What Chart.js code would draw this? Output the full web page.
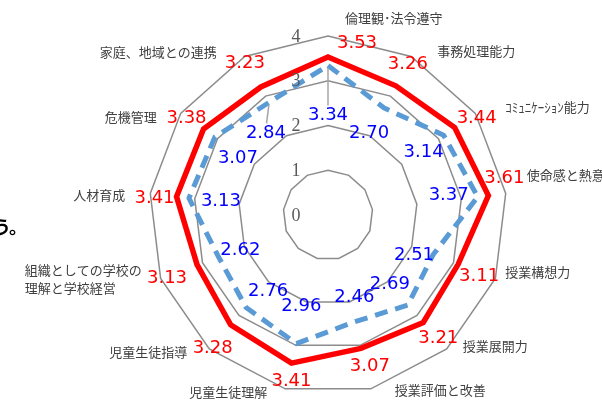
<!DOCTYPE html>
<html><head><meta charset="utf-8">
<script src="https://cdn.jsdelivr.net/npm/chart.js@4.4.1/dist/chart.umd.min.js"></script>
<style>html,body{margin:0;padding:0;background:#fff;overflow:hidden}#wrap{position:relative;width:602px;height:401px}</style>
</head><body><div id="wrap"><canvas id="c" width="602" height="401"></canvas></div>
<script>
// ---- data ----
const categories = ["倫理観･法令遵守","事務処理能力","ｺﾐｭﾆｹｰｼｮﾝ能力","使命感と熱意","授業構想力","授業展開力","授業評価と改善","児童生徒理解","児童生徒指導",["組織としての学校の","理解と学校経営"],"人材育成","危機管理","家庭、地域との連携"];
const redValues  = [3.53,3.26,3.44,3.61,3.11,3.21,3.07,3.41,3.28,3.13,3.41,3.38,3.23];
const blueValues = [3.34,2.70,3.14,3.37,2.51,2.69,2.46,2.96,2.76,2.62,3.13,3.07,2.84];
const tickValues = [0,1,2,3,4];

// ---- label placement (pixel offsets from the scale-computed anchor) ----
const redLabelOffsets  = [[29,-14],[12,-21],[22,-9],[16,-17],[21,12],[15,16],[9,18],[0,18],[-18,23],[-30,14],[-22,2],[-17,-11],[-16,-24]];
const blueLabelOffsets = [[0,50],[-15,25],[-20,17],[-29,-1],[-19,0],[-18,-21],[0,-25],[5,-37],[22,-16],[22,-6],[32,3],[23,21],[-3,31]];
const blueLeaders = {0:true, 12:true};
const catOffsets = [[17,-18,'left'],[26,-5,'left'],[30,-6,'left'],[21,-18,'left'],[10,-6,'left'],[16,-3,'left'],[24,1,'left'],[-18,3,'right'],[-22,3,'right'],[-136,-8,'left'],[-25,2,'right'],[-24,4,'right'],[-28,-4,'right']];

const labelPlugin = {
  id: 'labels',
  afterDatasetsDraw(chart) {
    const s = chart.scales.r;
    const ctx = chart.ctx;
    ctx.save();
    // tick labels
    ctx.font = '18px "Liberation Serif"';
    ctx.fillStyle = '#595959';
    ctx.textAlign = 'center';
    ctx.textBaseline = 'middle';
    tickValues.forEach(v => {
      ctx.fillText(String(v), s.xCenter - 32, s.yCenter - s.getDistanceFromCenterForValue(v) + 1);
    });
    // leader lines
    ctx.strokeStyle = '#a6a6a6';
    ctx.lineWidth = 1.5;
    blueValues.forEach((v, i) => {
      if (!blueLeaders[i]) return;
      const p = s.getPointPosition(i, s.getDistanceFromCenterForValue(v));
      const o = blueLabelOffsets[i];
      ctx.beginPath();
      ctx.moveTo(p.x, p.y + 2);
      ctx.lineTo(p.x + o[0] * 0.8, p.y + o[1] - 10);
      ctx.stroke();
    });
    // value labels
    ctx.font = '18px "DejaVu Sans"';
    ctx.textAlign = 'center';
    ctx.textBaseline = 'middle';
    ctx.fillStyle = '#ff0000';
    redValues.forEach((v, i) => {
      const p = s.getPointPosition(i, s.getDistanceFromCenterForValue(v));
      const o = redLabelOffsets[i];
      ctx.fillText(v.toFixed(2), p.x + o[0], p.y + o[1]);
    });
    ctx.fillStyle = '#0000ff';
    blueValues.forEach((v, i) => {
      const p = s.getPointPosition(i, s.getDistanceFromCenterForValue(v));
      const o = blueLabelOffsets[i];
      ctx.fillText(v.toFixed(2), p.x + o[0], p.y + o[1]);
    });
    // category labels
    ctx.font = '13px "Noto Sans CJK JP"';
    ctx.fillStyle = '#404040';
    categories.forEach((c, i) => {
      const p = s.getPointPosition(i, s.getDistanceFromCenterForValue(4));
      const o = catOffsets[i];
      ctx.textAlign = o[2];
      const lines = Array.isArray(c) ? c : [c];
      lines.forEach((t, k) => ctx.fillText(t, p.x + o[0], p.y + o[1] + k * 18));
    });
    // cropped text fragment at left edge
    ctx.font = 'bold 18px "Noto Sans CJK JP"';
    ctx.fillStyle = '#000';
    ctx.textBaseline = 'alphabetic';
    ctx.textAlign = 'right';
    ctx.fillText('う', 11, 234);
    ctx.textAlign = 'left';
    ctx.fillText('。', 9, 234);
    ctx.restore();
  }
};

new Chart(document.getElementById('c'), {
  type: 'radar',
  data: {
    labels: categories,
    datasets: [
      { data: redValues, borderColor: '#ff0000', borderWidth: 5.5, fill: false, pointRadius: 0, borderJoinStyle: 'miter' },
      { data: blueValues, borderColor: '#5b9bd5', borderWidth: 5, borderDash: [13, 8], fill: false, pointRadius: 0, borderJoinStyle: 'round' }
    ]
  },
  options: {
    responsive: false,
    devicePixelRatio: 1,
    animation: false,
    plugins: { legend: { display: false }, tooltip: { enabled: false } },
    scales: {
      r: {
        min: 0, max: 4,
        ticks: { display: false, stepSize: 1 },
        pointLabels: { display: false },
        angleLines: { display: false },
        grid: { circular: false, color: '#8c8c8c', lineWidth: 1.5 },
        afterFit(s) { s.xCenter = 328; s.yCenter = 215; s.drawingArea = 179; }
      }
    }
  },
  plugins: [labelPlugin]
});
</script></body></html>
